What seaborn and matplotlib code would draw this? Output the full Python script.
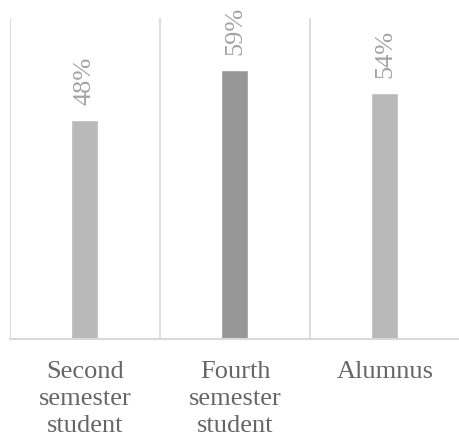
import matplotlib
matplotlib.use("Agg")
import matplotlib.pyplot as plt
import seaborn as sns
import numpy as np
import pandas as pd

categories = ["Second\nsemester\nstudent", "Fourth\nsemester\nstudent", "Alumnus"]
values = [48, 59, 54]
bar_colors = ["#b9b9b9", "#979797", "#b9b9b9"]

sns.set_theme(style="white")
plt.rcParams["font.family"] = ["Liberation Serif", "DejaVu Serif"]

df = pd.DataFrame({"group": categories, "share": values})

fig = plt.figure(figsize=(4.6, 4.36), dpi=100)
ax = fig.add_axes([0.0217, 0.2225, 0.9783, 0.7362])

sns.barplot(data=df, x="group", y="share", hue="group", palette=bar_colors,
            width=0.18, legend=False, ax=ax, saturation=1)

ax.set_ylim(0, 70.4)
ax.set_xlim(-0.5, len(categories) - 0.5)

# category separators
ax.set_xticks(np.arange(len(categories) + 1) - 0.5, minor=True)
ax.grid(which="minor", axis="x", color="#d9d9d9", linewidth=1.3)
ax.grid(which="major", visible=False)
ax.tick_params(axis="x", which="both", length=0)
ax.tick_params(axis="x", which="major", pad=16, labelsize=19, labelcolor="#666666")
for lbl in ax.get_xticklabels():
    lbl.set_linespacing(1.3)
ax.set_yticks([])
ax.set_xlabel("")
ax.set_ylabel("")

for side in ["top", "right", "left"]:
    ax.spines[side].set_visible(False)
ax.spines["bottom"].set_color("#d9d9d9")
ax.spines["bottom"].set_linewidth(1.5)

for cont in ax.containers:
    ax.bar_label(cont, labels=[f"{v:.0f}%" for v in cont.datavalues],
                 rotation=90, padding=11, fontsize=19, color="#a3a3a3")

fig.savefig("out.png", dpi=100)
